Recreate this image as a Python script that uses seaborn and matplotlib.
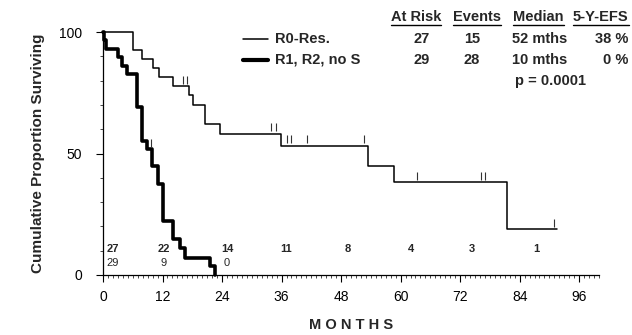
import numpy as np
import seaborn as sns
import matplotlib.pyplot as plt
from matplotlib.lines import Line2D
from matplotlib.ticker import MultipleLocator

# Kaplan-Meier steps (months, % surviving)
r0_time = [0, 6.0, 7.8, 10.0, 11.2, 14.1, 17.3, 18.2, 20.5, 23.5, 35.8, 53.5, 58.7, 81.4, 91.6]
r0_surv = [100, 92.6, 88.9, 85.2, 81.5, 77.8, 74.0, 70.0, 62.2, 58.1, 53.2, 45.0, 38.1, 18.9, 18.9]
r0_cens_time = [16.1, 16.9, 33.9, 34.8, 37.0, 38.0, 41.1, 52.7, 63.4, 76.3, 77.1, 91.0]
r0_cens_surv = [77.8, 77.8, 58.1, 58.1, 53.2, 53.2, 53.2, 53.2, 38.1, 38.1, 38.1, 18.9]

r12_time = [0, 0.15, 0.7, 3.0, 3.8, 4.8, 6.8, 7.8, 8.8, 9.9, 11.0, 12.1, 14.2, 15.6, 16.6, 21.6, 22.6]
r12_surv = [100, 96.6, 93.1, 89.7, 86.2, 82.8, 69.0, 55.2, 51.7, 45.0, 37.5, 22.2, 14.8, 11.1, 7.0, 3.7, 0]
r12_cens_time = [9.6]
r12_cens_surv = [51.7]

# numbers at risk
risk_x = [2.0, 12.3, 25.0, 37.0, 49.3, 62.0, 74.3, 87.3]
risk_r0 = ['27', '22', '14', '11', '8', '4', '3', '1']
risk_r12 = ['29', '9', '0']

headers = ['At Risk', 'Events', 'Median', '5-Y-EFS']
groups = ['R0-Res.', 'R1, R2, no S']
at_risk = ['27', '29']
events = ['15', '28']
medians = ['52 mths', '10 mths']
efs5 = ['38 %', '0 %']
p_text = 'p = 0.0001'

sns.set_theme(style='white')
plt.rcParams['font.family'] = ['Liberation Sans', 'DejaVu Sans']

W, H = 632, 335
fig = plt.figure(figsize=(W / 100, H / 100), dpi=100)
ax = fig.add_axes([103 / W, 60 / H, 496 / W, 243 / H])

sns.lineplot(x=r0_time, y=r0_surv, drawstyle='steps-post', color='black',
             linewidth=1.1, estimator=None, ax=ax, clip_on=False)
sns.lineplot(x=r12_time, y=r12_surv, drawstyle='steps-post', color='black',
             linewidth=2.6, estimator=None, ax=ax, clip_on=False)

off = 2.6
ax.plot(r0_cens_time, np.array(r0_cens_surv) + off, ls='none', marker='|',
        ms=5.8, mew=0.8, color='#333333', clip_on=False)
ax.plot(r12_cens_time, np.array(r12_cens_surv) + off, ls='none', marker='|',
        ms=5.8, mew=0.8, color='#333333', clip_on=False)

for x, t in zip(risk_x, risk_r0):
    ax.text(x, 10.8, t, ha='center', va='center', fontsize=8, fontweight='bold')
for x, t in zip(risk_x, risk_r12):
    ax.text(x, 5.0, t, ha='center', va='center', fontsize=8)

ax.set_xlim(0, 100)
ax.set_ylim(0, 100)
ax.xaxis.set_major_locator(MultipleLocator(12))
ax.xaxis.set_minor_locator(MultipleLocator(1))
ax.yaxis.set_major_locator(MultipleLocator(50))
ax.yaxis.set_minor_locator(MultipleLocator(10))
ax.set_xticks(np.arange(0, 97, 12))
ax.tick_params(axis='both', which='both', bottom=True, left=True, direction='out')
ax.tick_params(axis='both', which='major', length=5, width=0.8,
               labelsize=10, color='black', labelcolor='black')
ax.tick_params(axis='both', which='minor', length=2.5, width=0.5, color='black')
ax.tick_params(axis='x', which='major', pad=6)
ax.tick_params(axis='y', which='major', pad=10)
sns.despine(ax=ax)
for s in ['left', 'bottom']:
    ax.spines[s].set_color('black')
    ax.spines[s].set_linewidth(0.9)

ax.set_xlabel('M O N T H S', fontsize=10.5, fontweight='bold', labelpad=10)
ax.set_ylabel('Cumulative Proportion Surviving', fontsize=11, fontweight='bold', labelpad=10)

def fx(px):
    return px / W

def fy(py):
    return 1 - py / H

# header row with underlines
header_x = [391, 453, 513, 573]
htexts = []
for x, t in zip(header_x, headers):
    htexts.append(fig.text(fx(x), fy(17), t, ha='left', va='center',
                           fontsize=10.5, fontweight='bold'))

rows_y = [39, 60]
widths = [1.1, 3.0]
for i in range(2):
    y = rows_y[i]
    fig.add_artist(Line2D([fx(243), fx(268)], [fy(y), fy(y)], color='black',
                          linewidth=widths[i]))
    fig.text(fx(275), fy(y), groups[i], ha='left', va='center', fontsize=10.5, fontweight='bold')
    fig.text(fx(422), fy(y), at_risk[i], ha='center', va='center', fontsize=10.5, fontweight='bold')
    fig.text(fx(472), fy(y), events[i], ha='center', va='center', fontsize=10.5, fontweight='bold')
    fig.text(fx(567), fy(y), medians[i], ha='right', va='center', fontsize=10.5, fontweight='bold')
    fig.text(fx(628), fy(y), efs5[i], ha='right', va='center', fontsize=10.5, fontweight='bold')
fig.text(fx(515), fy(81), p_text, ha='left', va='center', fontsize=10.5, fontweight='bold')

fig.canvas.draw()
inv = fig.transFigure.inverted()
for t in htexts:
    bb = t.get_window_extent()
    (x0, y0), (x1, _) = inv.transform([(bb.x0, bb.y0 - 1), (bb.x1, bb.y0 - 1)])
    fig.add_artist(Line2D([x0, x1], [y0, y0], color='black', linewidth=1.0))

fig.savefig('out.png', dpi=100)
